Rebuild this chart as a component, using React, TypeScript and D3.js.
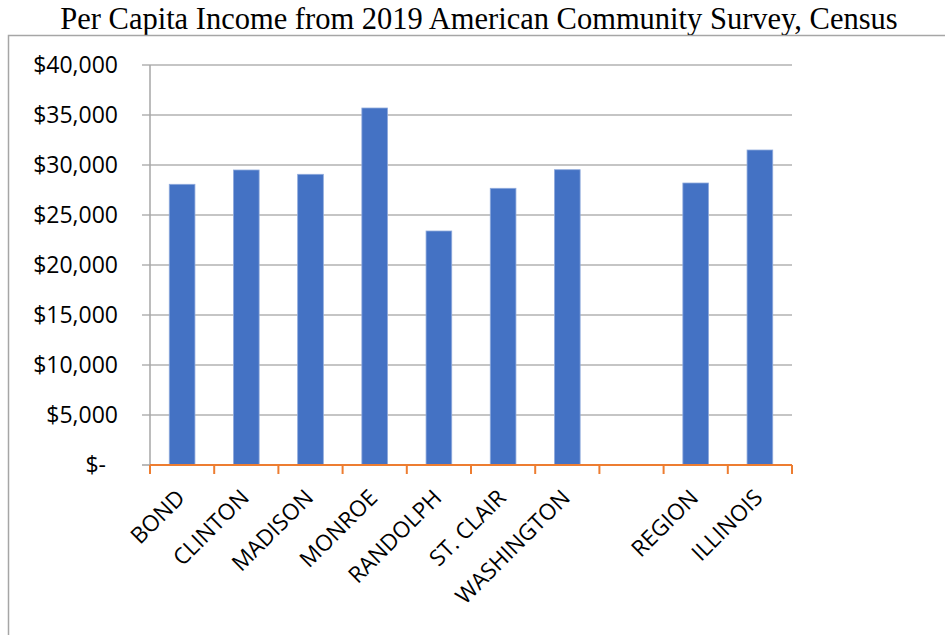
import React from "react";
import * as d3 from "d3";

const categories = ["BOND", "CLINTON", "MADISON", "MONROE", "RANDOLPH", "ST. CLAIR", "WASHINGTON", "", "REGION", "ILLINOIS"];
const values: (number | null)[] = [28070, 29500, 29070, 35700, 23400, 27670, 29530, null, 28200, 31500];
const yTicks = [0, 5000, 10000, 15000, 20000, 25000, 30000, 35000, 40000];
const title = "Per Capita Income from 2019 American Community Survey, Census";

const W = 945;
const H = 635;
const left = 150;
const right = 792;
const top = 65;
const bottom = 465;

export default function App() {
  const x = d3.scaleBand<number>().domain(categories.map((_, i) => i)).range([left, right]).paddingInner(0).paddingOuter(0);
  const y = d3.scaleLinear().domain([0, 40000]).range([bottom, top]);
  const bw = x.bandwidth() / 2.5;
  const fmt = (v: number) => (v === 0 ? "$-" : "$" + d3.format(",")(v));
  const sans = "'Open Sans', sans-serif";
  return (
    <svg width={W} height={H} style={{ position: "absolute", left: 0, top: 0, background: "#fff" }}>
      <rect x={0} y={0} width={W} height={H} fill="#fff" />
      <text x={479} y={29} textAnchor="middle" fontFamily="'Liberation Serif', 'Times New Roman', serif" fontSize={30.5} fill="#000">
        {title}
      </text>
      <path d={`M8.5,${H} V35.5 H${W}`} fill="none" stroke="#a6a6a6" strokeWidth={1.5} />
      {yTicks.map((t) => (
        <g key={t}>
          {t !== 0 && <line x1={142} x2={right} y1={y(t)} y2={y(t)} stroke="#8c8c8c" strokeWidth={1.2} />}
          {t === 0 && <line x1={142} x2={left} y1={y(t)} y2={y(t)} stroke="#8c8c8c" strokeWidth={1.2} />}
          <text x={t === 0 ? 106 : 118} y={y(t)} dy="0.36em" textAnchor="end" fontFamily={sans} fontSize={23} fill="#000">
            {fmt(t)}
          </text>
        </g>
      ))}
      <line x1={left} x2={left} y1={top} y2={bottom} stroke="#a6a6a6" strokeWidth={1.5} />
      {values.map((v, i) =>
        v == null ? null : (
          <rect
            key={i}
            x={(x(i) as number) + (x.bandwidth() - bw) / 2}
            y={y(v)}
            width={bw}
            height={bottom - y(v)}
            fill="#4472C4"
            stroke="#8faadc"
            strokeWidth={0.8}
          />
        )
      )}
      <line x1={left} x2={right} y1={bottom} y2={bottom} stroke="#ED7D31" strokeWidth={2} />
      {d3.range(categories.length + 1).map((i) => {
        const xx = left + i * x.bandwidth();
        return <line key={i} x1={xx} x2={xx} y1={bottom} y2={bottom + 9} stroke="#ED7D31" strokeWidth={2} />;
      })}
      {categories.map((c, i) => {
        const cx = (x(i) as number) + x.bandwidth() / 2 - 7;
        const cy = bottom + 23;
        return (
          <text key={i} x={cx} y={cy} dy="0.7em" textAnchor="end" transform={`rotate(-45, ${cx}, ${cy})`} fontFamily={sans} fontSize={22.5} fill="#000">
            {c}
          </text>
        );
      })}
    </svg>
  );
}
